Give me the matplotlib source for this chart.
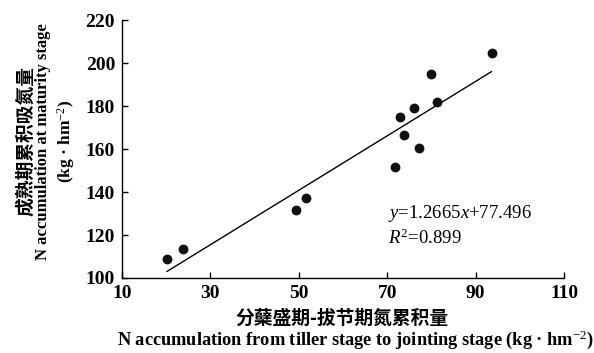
import matplotlib

matplotlib.use("Agg")

import matplotlib.pyplot as plt
import numpy as np

# values
tiller_to_jointing_n = [20.2, 23.9, 49.3, 51.7, 71.8, 72.8, 73.7, 76.1, 77.3, 80.0, 81.3, 93.6]
maturity_n = [109.0, 113.4, 131.5, 137.3, 151.6, 174.8, 166.5, 178.9, 160.7, 195.0, 181.7, 204.5]
slope = 1.2665
intercept = 77.496
r_squared = 0.899
x_ticks = [10, 30, 50, 70, 90, 110]
y_ticks = [100, 120, 140, 160, 180, 200, 220]

plt.rcParams["font.family"] = ["Liberation Serif", "Noto Sans CJK SC"]
plt.rcParams["mathtext.fontset"] = "custom"
plt.rcParams["mathtext.rm"] = "Liberation Serif"
plt.rcParams["mathtext.it"] = "Liberation Serif:italic"
plt.rcParams["mathtext.bf"] = "Liberation Serif:bold"

CJK = ["Noto Sans CJK SC", "DejaVu Sans"]

fig = plt.figure(figsize=(5.94, 3.53), dpi=100)
ax = fig.add_axes([0.2054, 0.2125, 0.7441, 0.7305])

ax.scatter(tiller_to_jointing_n, maturity_n, s=50, color="#111111", zorder=3, linewidths=0)
x_fit = np.array([min(tiller_to_jointing_n), max(tiller_to_jointing_n)])
ax.plot(x_fit, slope * x_fit + intercept, color="black", linewidth=1.0)

ax.text(70.2, 130.2, rf"$y$={slope}$x$+{intercept}", fontsize=13.5, va="center")
ax.text(70.2, 118.6, rf"$R^2$={r_squared}", fontsize=13.5, va="center")

ax.set_xlim(10, 110)
ax.set_ylim(100, 220)
ax.set_xticks(x_ticks)
ax.set_yticks(y_ticks)
ax.tick_params(direction="in", length=4, width=1, labelsize=14, pad=5)
for label in ax.get_xticklabels() + ax.get_yticklabels():
    label.set_fontweight("bold")
ax.spines[["top", "right"]].set_visible(False)
ax.spines[["left", "bottom"]].set_linewidth(1.0)

# axis titles: Chinese line plus English line
fig.text(0.043, 0.60, "成熟期累积吸氮量", rotation=90, ha="center", va="center",
         fontsize=13.5, fontweight="bold", family=CJK)
fig.text(0.072, 0.60, "N accumulation at maturity stage", rotation=90, ha="center",
         va="center", fontsize=12, fontweight="bold")
fig.text(0.111, 0.60, r"(kg · hm$^{-2}$)", rotation=90, ha="center", va="center",
         fontsize=12.5, fontweight="bold")

fig.text(0.576, 0.099, "分蘖盛期-拔节期氮累积量", ha="center", va="center",
         fontsize=13.5, fontweight="bold", family=CJK)
fig.text(0.598, 0.037, r"N accumulation from tiller stage to jointing stage (kg · hm$^{-2}$)",
         ha="center", va="center", fontsize=13.2, fontweight="bold")

fig.savefig("out.png", dpi=100)
